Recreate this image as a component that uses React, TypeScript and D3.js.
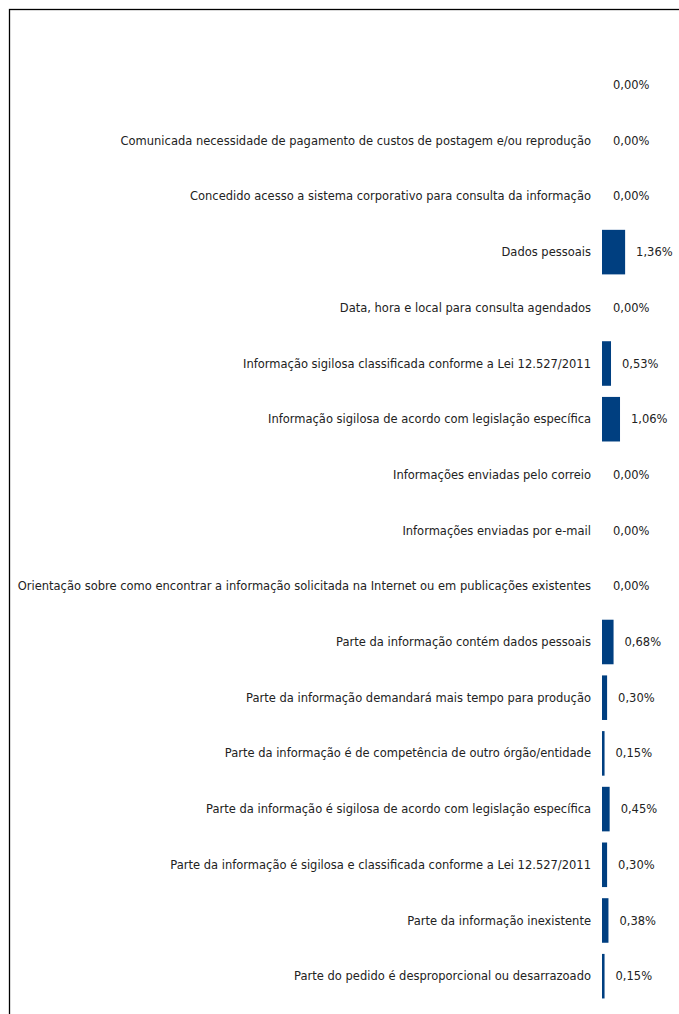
import React from "react";
import * as d3 from "d3";

const categories: string[] = [
  "",
  "Comunicada necessidade de pagamento de custos de postagem e/ou reprodução",
  "Concedido acesso a sistema corporativo para consulta da informação",
  "Dados pessoais",
  "Data, hora e local para consulta agendados",
  "Informação sigilosa classificada conforme a Lei 12.527/2011",
  "Informação sigilosa de acordo com legislação específica",
  "Informações enviadas pelo correio",
  "Informações enviadas por e-mail",
  "Orientação sobre como encontrar a informação solicitada na Internet ou em publicações existentes",
  "Parte da informação contém dados pessoais",
  "Parte da informação demandará mais tempo para produção",
  "Parte da informação é de competência de outro órgão/entidade",
  "Parte da informação é sigilosa de acordo com legislação específica",
  "Parte da informação é sigilosa e classificada conforme a Lei 12.527/2011",
  "Parte da informação inexistente",
  "Parte do pedido é desproporcional ou desarrazoado",
];

const values: number[] = [
  0, 0, 0, 1.36, 0, 0.53, 1.06, 0, 0, 0, 0.68, 0.3, 0.15, 0.45, 0.3, 0.38, 0.15,
];

const W = 679;
const H = 1014;
const x0 = 602;
const FONT = "DejaVu Sans, Verdana, sans-serif";
const FS = 11.5;

const fmt = (v: number) => v.toFixed(2).replace(".", ",") + "%";

export default function App() {
  const y = d3
    .scaleBand<string>()
    .domain(categories.map((c, i) => String(i)))
    .range([51.6, 1009.6])
    .padding(0.2);
  const x = d3.scaleLinear().domain([0, 1]).range([x0, x0 + 17]);
  const bw = y.bandwidth();

  return (
    <svg
      width={W}
      height={H}
      style={{ position: "absolute", left: 0, top: 0, background: "#fff" }}
    >
      <rect x={0} y={0} width={W} height={H} fill="#fff" />
      <rect
        x={9.5}
        y={9.5}
        width={W + 50}
        height={H + 50}
        fill="none"
        stroke="#000"
        strokeWidth={1.3}
      />
      {categories.map((c, i) => {
        const yy = y(String(i))!;
        const cy = yy + bw / 2;
        const v = values[i];
        const xe = x(v);
        return (
          <g key={i}>
            {v > 0 && (
              <rect
                x={x0}
                y={yy}
                width={Math.max(xe - x0, 2)}
                height={bw}
                fill="#003F80"
              />
            )}
            <text
              x={591}
              y={cy}
              dy="0.35em"
              textAnchor="end"
              fontFamily={FONT}
              fontSize={FS}
              fill="#222"
            >
              {c}
            </text>
            <text
              x={Math.max(xe, x0) + 11}
              y={cy}
              dy="0.35em"
              textAnchor="start"
              fontFamily={FONT}
              fontSize={FS}
              fill="#222"
            >
              {fmt(v)}
            </text>
          </g>
        );
      })}
    </svg>
  );
}
